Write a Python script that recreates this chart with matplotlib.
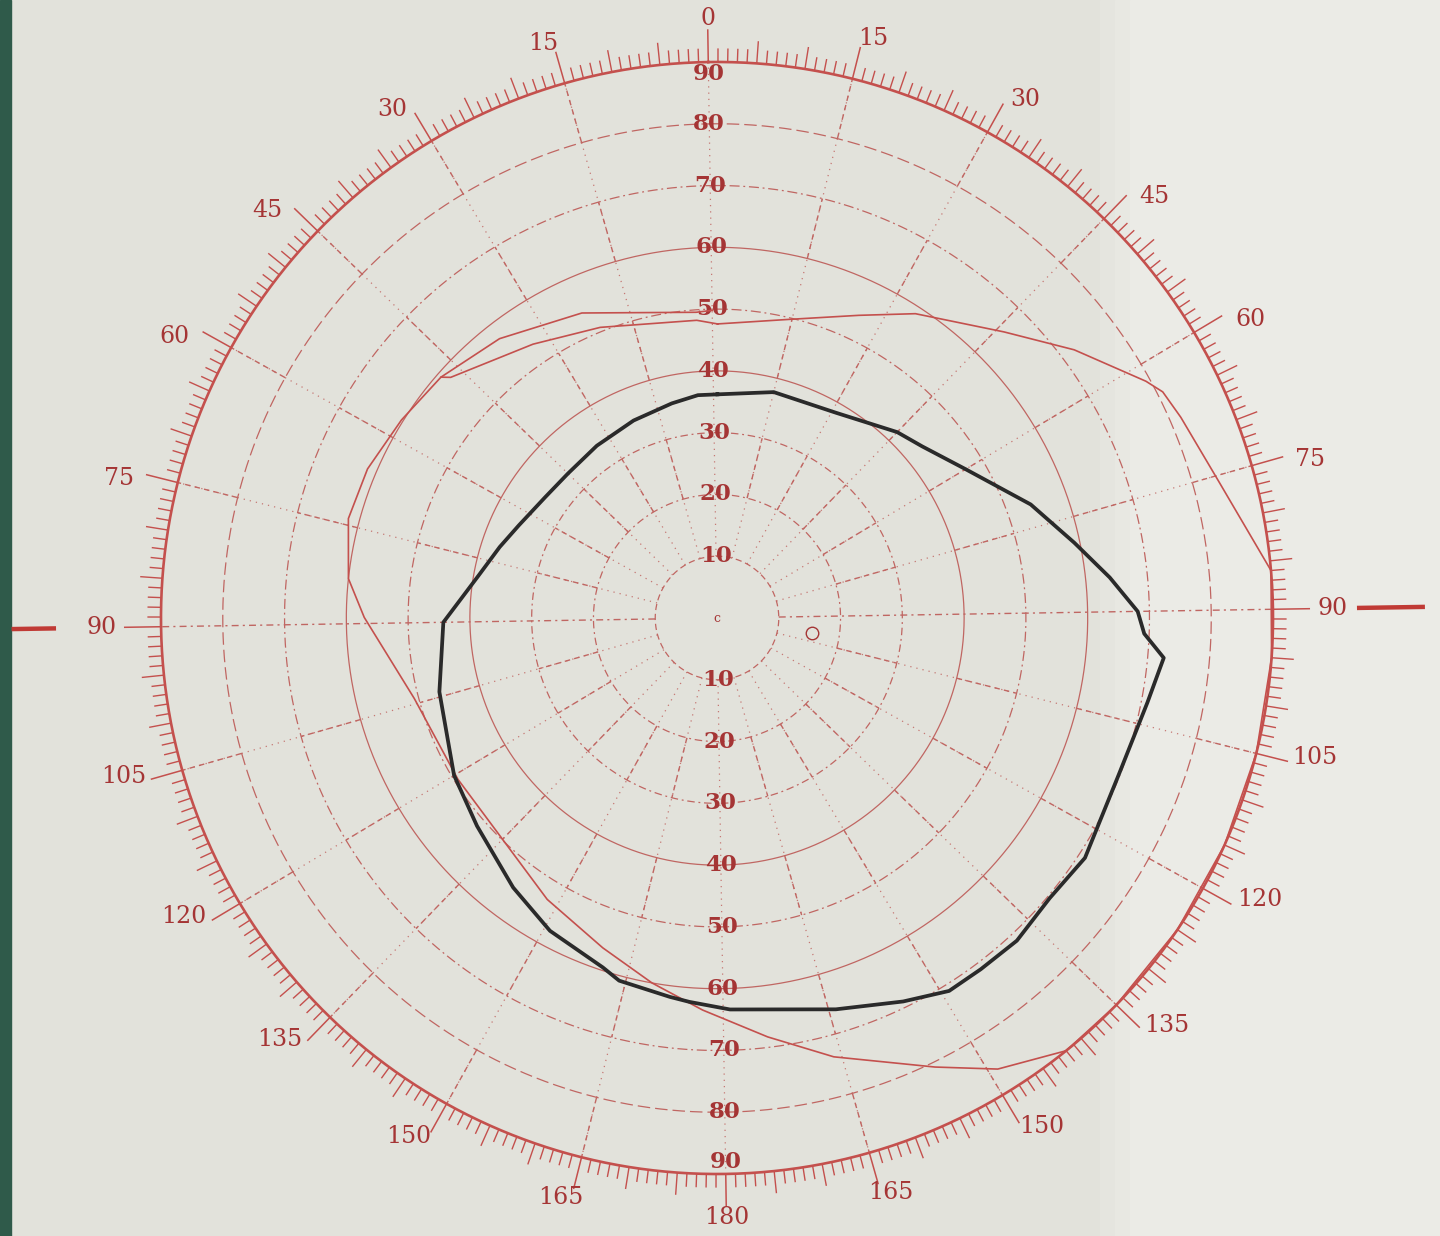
import numpy as np
import matplotlib
matplotlib.use('Agg')
import matplotlib.pyplot as plt
from matplotlib.patches import Rectangle

# isopters: meridian (deg, clockwise from top), eccentricity (deg)
black_merid = [1, 15, 31, 45, 51, 60, 71, 79, 85, 90, 93, 96, 102, 112, 124, 131,
               138, 144, 149, 155, 164, 179, 185, 188, 196, 199, 209, 218, 230, 240,
               256, 270, 281, 289, 296, 306, 315, 326, 338, 349, 356]
black_ecc = [36.2, 37.7, 38.4, 41.9, 43.3, 46.9, 54.0, 59.1, 63.9, 68.1, 69.2, 72.6,
             71.0, 69.8, 71.1, 70.4, 71.3, 71.1, 71.1, 69.0, 66.2, 63.4, 62.3, 61.8,
             60.8, 59.5, 57.4, 54.7, 51.4, 49.6, 46.5, 44.3, 39.2, 37.0, 35.4, 34.0,
             33.6, 34.0, 34.7, 35.5, 36.2]

red_merid = [1, 14, 26, 34, 46, 54, 62, 64, 67.5, 76, 86, 95, 105, 115, 125, 135, 142,
             149, 155, 166, 174, 183, 191, 200, 212, 239, 256, 271, 277, 286, 294,
             303, 312, 313, 327, 339, 357]
red_ecc = [47.6, 49.6, 54.1, 58.8, 65.6, 72.3, 79.3, 80.9, 81.8, 84.3, 90, 90, 90, 90,
           90, 90, 90, 86.0, 80.8, 73.5, 68.3, 63.5, 60.0, 56.5, 53.2, 49.4, 50.7,
           57.1, 60.0, 61.8, 61.5, 60.3, 59.3, 58.1, 53.4, 50.7, 48.3]

# second (outer) red stroke in the upper left
red2_merid = [312, 323, 337, 357, 360]
red2_ecc = [59.3, 57.3, 54.0, 49.6, 49.8]

rings = [10, 20, 30, 40, 50, 60, 70, 80]
ring_labels = [10, 20, 30, 40, 50, 60, 70, 80, 90]
meridian_labels = [0, 15, 30, 45, 60, 75, 90, 105, 120, 135, 150, 165, 180,
                   165, 150, 135, 120, 105, 90, 75, 60, 45, 30, 15]
blind_spot = (100, 15.5)

RED = '#c4504d'
GRID = '#c06662'
TXT = '#a53535'
ROT = 0.9  # the printed chart is slightly turned
SERIF = 'DejaVu Serif'

ring_styles = {10: (0, (5, 3)), 20: (0, (6, 3, 1.5, 3)), 30: (0, (6, 3, 1.5, 3)),
               40: '-', 50: (0, (8, 3, 1.5, 3)), 60: '-', 70: (0, (8, 3, 1.5, 3)),
               80: (0, (10, 4))}

fig = plt.figure(figsize=(14.4, 12.36), dpi=100)
fig.patch.set_facecolor('#e2e2db')
# lighter right part of the scan and the dark binding edge
for x0, c in [(1100, '#e5e5df'), (1115, '#e8e8e2'), (1130, '#ebebe6')]:
    fig.add_artist(Rectangle((x0 / 1440, 0), 1, 1, transform=fig.transFigure,
                             color=c, zorder=-5))
fig.add_artist(Rectangle((0, 0), 11 / 1440, 1, transform=fig.transFigure,
                         color='#2f5a4a', zorder=-4))

ax = fig.add_axes([0.06889, 0.00016, 0.85806, 0.99968], projection='polar')
ax.set_facecolor('none')
ax.set_theta_zero_location('N', offset=ROT)
ax.set_theta_direction(-1)
ax.set_rlim(0, 100)
ax.grid(False)
ax.set_xticks([])
ax.set_yticks([])
ax.spines['polar'].set_visible(False)

full = np.linspace(0, 2 * np.pi, 1441)

# rings
for r in rings:
    ax.plot(full, np.full_like(full, r), color=GRID, lw=0.9,
            ls=ring_styles[r], zorder=2)
ax.plot(full, np.full_like(full, 90), color=RED, lw=1.9, zorder=3)

# meridians
main = np.arange(0, 360, 15)
for m in main:
    th = np.deg2rad(m)
    if m in (90, 270):
        ax.vlines(th, 10, 90, colors=GRID, lw=1.0, linestyles=(0, (5, 3, 1.5, 3)))
        continue
    ax.vlines(th, 10, 90, colors=GRID, lw=0.9, linestyles=(0, (1, 4)), alpha=0.85)
    if m in (0, 180):
        continue
    for a, b in [(20, 30), (40, 50), (60, 70), (80, 90)]:
        ax.vlines(th, a, b, colors=GRID, lw=1.0, linestyles=(0, (4, 3)))

# outer scale ticks
deg = np.arange(0, 360, 1)
minor = deg[deg % 5 != 0]
five = deg[(deg % 5 == 0) & (deg % 15 != 0)]
lc = ax.vlines(np.deg2rad(minor), 90, 92.2, colors=RED, lw=1.0)
lc.set_clip_on(False)
lc = ax.vlines(np.deg2rad(five), 90, 93.6, colors=RED, lw=1.0)
lc.set_clip_on(False)
lead_end = np.where(np.isin(main, [90, 270]), 96.0, 95.3)
lc = ax.vlines(np.deg2rad(main), 90, lead_end, colors=RED, lw=1.1)
lc.set_clip_on(False)

# meridian labels around the scale
for m, lab in zip(main, meridian_labels):
    shift = 1.9 * np.sin(np.deg2rad(2 * m))
    rr = 97.0 + 2.6 * np.sin(np.deg2rad(m)) ** 2
    ax.text(np.deg2rad(m + shift), rr, str(lab), color=TXT, fontsize=17,
            family=SERIF, ha='center', va='center', clip_on=False)

# ring labels along the vertical meridian
for r in ring_labels:
    rr = 88.0 if r == 90 else r
    for m in (0, 180):
        ax.text(np.deg2rad(m), rr, str(r), color=TXT, fontsize=16.5, family=SERIF,
                fontweight='bold', ha='center', va='center', zorder=4)

# horizontal meridian markers outside the chart
ax.plot([np.deg2rad(90)] * 2, [103.6, 114.6], color='#c03a35', lw=3.2,
        clip_on=False, solid_capstyle='butt')
ax.plot([np.deg2rad(270)] * 2, [107.0, 114.2], color='#c03a35', lw=3.2,
        clip_on=False, solid_capstyle='butt')

# fixation point and blind spot
ax.text(0, 0, 'c', color=TXT, fontsize=9, family=SERIF, ha='center', va='center')
ax.plot(np.deg2rad(blind_spot[0]), blind_spot[1], 'o', mfc='none', mec=TXT,
        ms=9, mew=1.0)

# isopters
th = np.deg2rad(black_merid + [black_merid[0] + 360])
ax.plot(th, black_ecc + [black_ecc[0]], color='#2a2a2a', lw=2.7, zorder=6,
        solid_joinstyle='round')
th = np.deg2rad(red_merid + [red_merid[0] + 360])
ax.plot(th, red_ecc + [red_ecc[0]], color=RED, lw=1.2, zorder=5)
ax.plot(np.deg2rad(red2_merid), red2_ecc, color=RED, lw=1.2, zorder=5)

fig.savefig('out.png', dpi=100, facecolor=fig.get_facecolor())
